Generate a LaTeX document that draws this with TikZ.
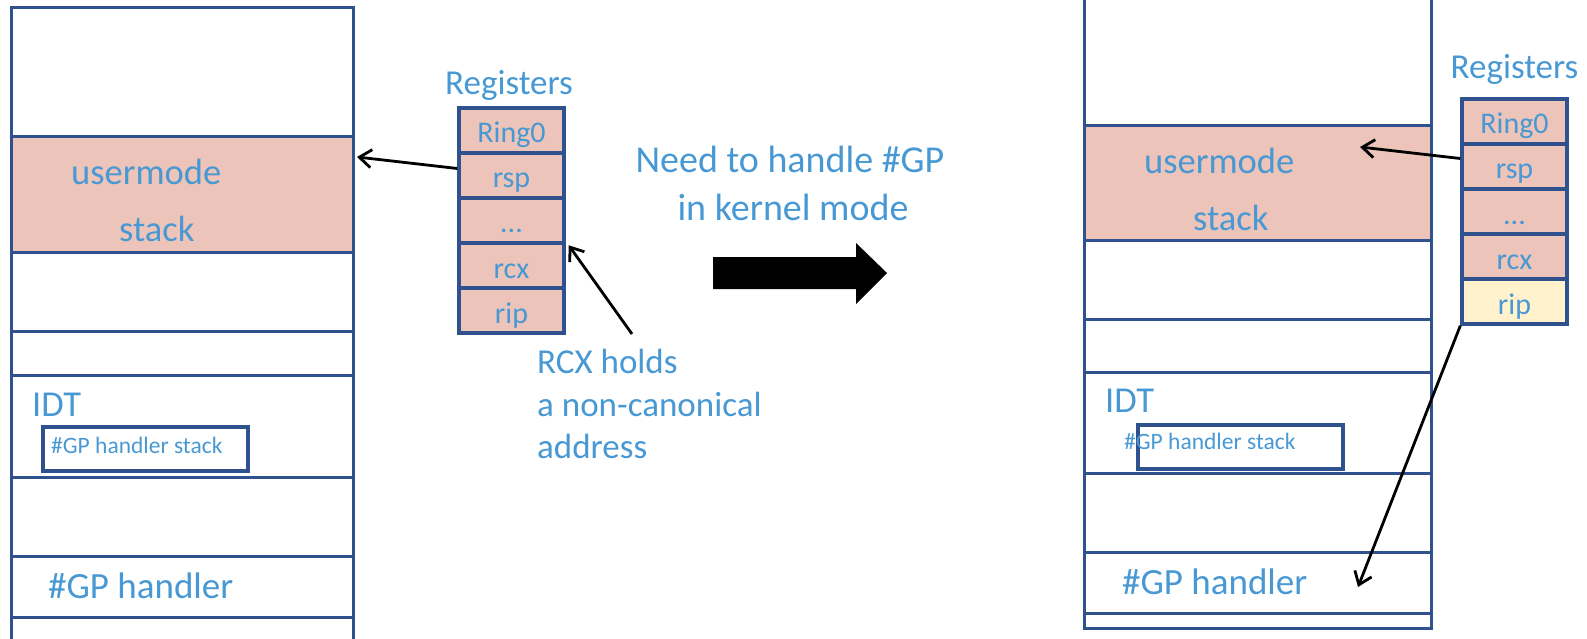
\documentclass[tikz,border=0pt]{standalone}
\usepackage{fontspec}
\setmainfont{Carlito}
\usetikzlibrary{arrows.meta,calc}
\definecolor{txtblue}{RGB}{72,152,212}
\definecolor{edgeblue}{RGB}{47,82,143}
\definecolor{pinkfill}{RGB}{236,196,185}
\definecolor{ripfill}{RGB}{255,242,204}
\begin{document}
\begin{tikzpicture}[x=1pt,y=-1pt,
  stackline/.style={draw=edgeblue,line width=3pt},
  lbl/.style={inner sep=0pt,text=txtblue,anchor=base west},
  bigtext/.style={font=\fontsize{36.5}{43}\selectfont},
  smalltext/.style={font=\fontsize{23.5}{28}\selectfont},
  notetext/.style={font=\fontsize{35}{42}\selectfont},
  headtext/.style={font=\fontsize{38}{45}\selectfont},
  regtitle/.style={inner sep=0pt,text=txtblue,anchor=base,font=\fontsize{35}{41}\selectfont},
  regcell/.style={draw=edgeblue,line width=3.4pt,fill=pinkfill,minimum width=105pt,
    minimum height=45pt,inner sep=0pt,text=txtblue,font=\fontsize{30}{36}\selectfont,
    text height=25pt,text depth=0pt},
  gpbox/.style={draw=edgeblue,line width=3.2pt,minimum width=205pt,minimum height=44pt,inner sep=0pt},
  pointer/.style={draw=black,line width=2.8pt,-{Straight Barb[length=12pt,width=18pt]}}]
\useasboundingbox (0,0) rectangle (1587,639);

% ---------- left memory column ----------
\fill[pinkfill] (11,137) rectangle (353,252);
\draw[stackline] (11,639) -- (11,8) -- (353,8) -- (353,639);
\foreach \yy in {137,252,331,375,477,556,617}
  \draw[stackline] (11,\yy) -- (353,\yy);
\node[gpbox] (lgpbox) at (145.5,449) {};

\node[lbl,bigtext] (lum) at (71,185) {usermode};
\node[lbl,bigtext] (lst) at (119,241) {stack};
\node[lbl,bigtext] (lidt) at (32,416) {IDT};
\node[lbl,smalltext] (lgps) at (51,453) {\#GP handler stack};
\node[lbl,bigtext,font=\fontsize{37}{43}\selectfont] (lgph) at (48,598) {\#GP handler};

% ---------- left register file ----------
\node[regtitle] (lregs) at (509,95) {Registers};
\node[regcell] (lr0)  at (511.5,130.5) {Ring0};
\node[regcell] (lrsp) at (511.5,175.5) {rsp};
\node[regcell] (ldot) at (511.5,220.5) {...};
\node[regcell] (lrcx) at (511.5,265.5) {rcx};
\node[regcell] (lrip) at (511.5,310.5) {rip};

\coordinate (lhead) at (357,157);
\draw[pointer] ($(lrsp.west)+(0,-7)$) -- (lhead);

\node[lbl,notetext] (note1) at (537,373) {RCX holds};
\node[lbl,notetext] (note2) at (537,416) {a non-canonical};
\node[lbl,notetext] (note3) at (537,458) {address};
\coordinate (notetail) at (632,334);
\draw[pointer] (notetail) -- ($(lrcx.north east)+(3,4)$);

% ---------- transition ----------
\node[inner sep=0pt,text=txtblue,anchor=base,headtext] (need1) at (790,173) {Need to handle \#GP};
\node[inner sep=0pt,text=txtblue,anchor=base,headtext] (need2) at (793,220) {in kernel mode};
\fill[black] (713,257) -- (856,257) -- (856,243) -- (887,273) -- (856,304) -- (856,289) -- (713,289) -- cycle;

% ---------- right memory column ----------
\fill[pinkfill] (1084,126) rectangle (1431,240);
\draw[stackline] (1084,0) -- (1084,628) -- (1431,628) -- (1431,0);
\foreach \yy in {126,240,319,372,473,552,613}
  \draw[stackline] (1084,\yy) -- (1431,\yy);
\node[gpbox] (rgpbox) at (1240.5,447) {};

\node[lbl,bigtext] (rum) at (1144,174) {usermode};
\node[lbl,bigtext] (rst) at (1193,230) {stack};
\node[lbl,bigtext] (ridt) at (1105,412) {IDT};
\node[lbl,smalltext] (rgps) at (1124,449) {\#GP handler stack};
\node[lbl,bigtext,font=\fontsize{37}{43}\selectfont] (rgph) at (1122,594) {\#GP handler};

% ---------- right register file ----------
\node[regtitle] (rregs) at (1514.5,79) {Registers};
\node[regcell] (rr0)  at (1514.5,121.5) {Ring0};
\node[regcell] (rrsp) at (1514.5,166.5) {rsp};
\node[regcell] (rdot) at (1514.5,211.5) {...};
\node[regcell] (rrcx) at (1514.5,256.5) {rcx};
\node[regcell,fill=ripfill] (rrip) at (1514.5,301.5) {rip};

\coordinate (rhead) at (1360,147);
\draw[pointer] ($(rrsp.west)+(0,-8)$) -- (rhead);
\coordinate (gphead) at (1358,587);
\draw[pointer] (rrip.south west) -- (gphead);
\end{tikzpicture}
\end{document}
